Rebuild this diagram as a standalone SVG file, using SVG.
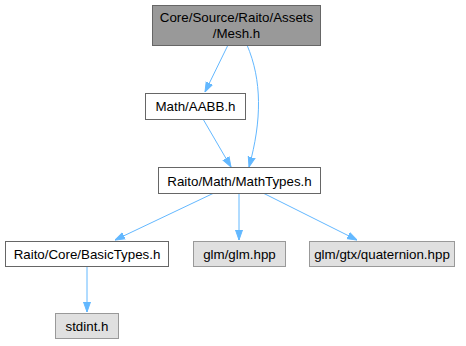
<svg xmlns="http://www.w3.org/2000/svg" width="466" height="346" viewBox="0 0 466 346">
<style>
text{font-family:"Liberation Sans",Arial,sans-serif;font-size:13.33px;fill:#000;text-anchor:middle}
.n rect{fill:#fff;stroke:#666;stroke-width:1}
.cur rect{fill:#999;stroke:#666}
.ext rect{fill:#e0e0e0;stroke:#999}
.e{fill:none;stroke:#63b8ff;stroke-width:1}
</style>
<defs>
<marker id="a" viewBox="0 0 10 10" refX="10" refY="5" markerWidth="10" markerHeight="10" markerUnits="userSpaceOnUse" orient="auto">
<path d="M0,1.5 L10,5 L0,8.5 Z" fill="#63b8ff" stroke="#63b8ff"/>
</marker>
</defs>
<g id="edges">
<path class="e" d="M228,45 L205,92" marker-end="url(#a)"/>
<path class="e" d="M247,45 C262,80 262,120 249,167" marker-end="url(#a)"/>
<path class="e" d="M203,119 L231,167" marker-end="url(#a)"/>
<path class="e" d="M214,193 L115,240" marker-end="url(#a)"/>
<path class="e" d="M239,193 L239,240" marker-end="url(#a)"/>
<path class="e" d="M263,193 L357,240" marker-end="url(#a)"/>
<path class="e" d="M87,266 L87,312" marker-end="url(#a)"/>
</g>
<g id="mesh" class="n cur"><rect x="152.5" y="5.5" width="168" height="40"/><text x="236.5" y="21.5">Core/Source/Raito/Assets</text><text x="236.5" y="37.5">/Mesh.h</text></g>
<g id="aabb" class="n"><rect x="145.5" y="93.5" width="100" height="26"/><text x="195.5" y="111">Math/AABB.h</text></g>
<g id="mathtypes" class="n"><rect x="158.5" y="167.5" width="162" height="26"/><text x="239.5" y="185.5">Raito/Math/MathTypes.h</text></g>
<g id="basictypes" class="n"><rect x="5.5" y="241.5" width="163" height="25"/><text x="87" y="258.5">Raito/Core/BasicTypes.h</text></g>
<g id="glm" class="n ext"><rect x="193.5" y="241.5" width="92" height="25"/><text x="239.5" y="258.5">glm/glm.hpp</text></g>
<g id="quat" class="n ext"><rect x="309.5" y="241.5" width="145" height="25"/><text x="382" y="258.5">glm/gtx/quaternion.hpp</text></g>
<g id="stdint" class="n ext"><rect x="55.5" y="313.5" width="63" height="25"/><text x="87" y="330.5">stdint.h</text></g>
</svg>
